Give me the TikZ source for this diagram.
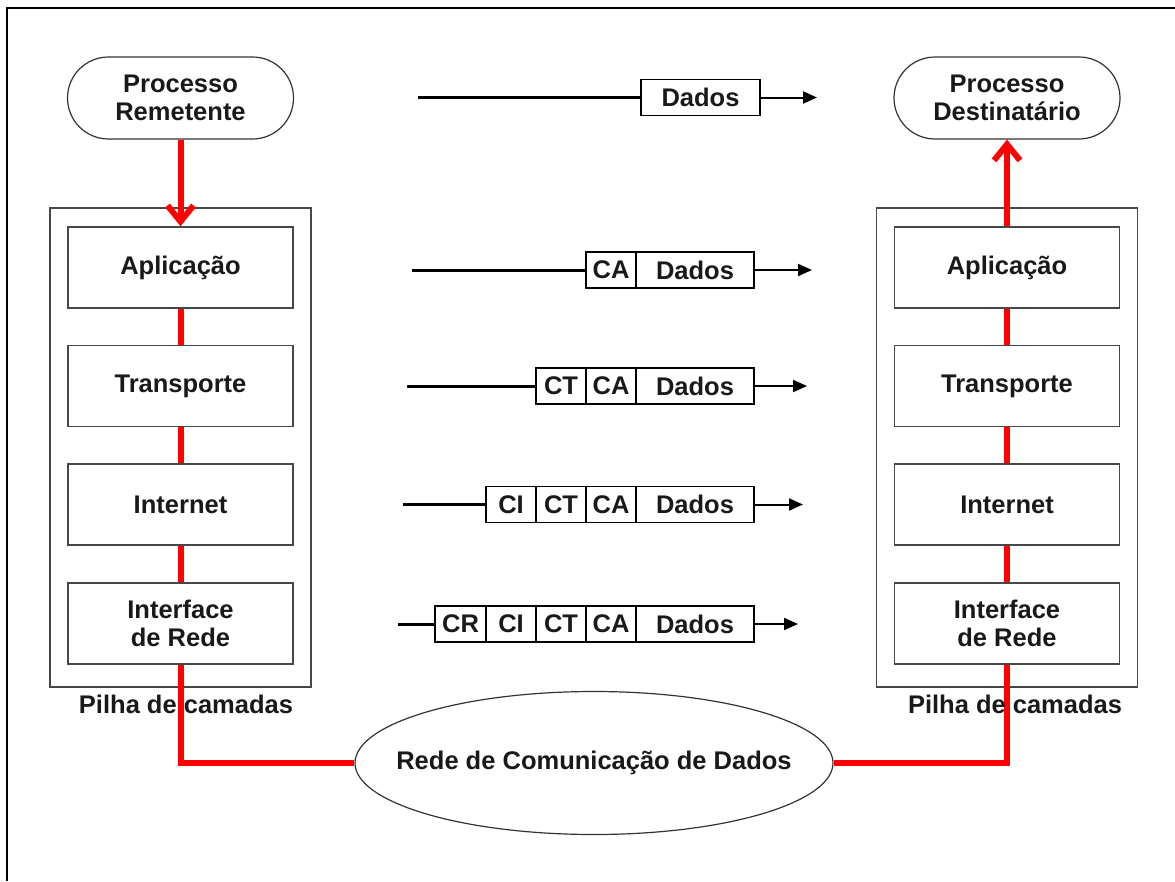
\documentclass[tikz,border=0pt]{standalone}
\usepackage{fontspec}
\setmainfont{Liberation Sans}
\usetikzlibrary{arrows.meta,shapes.geometric}

\begin{document}
\begin{tikzpicture}[x=1pt,y=-1pt,
  lbl/.style={font=\bfseries\fontsize{25.5}{28}\selectfont, align=center, text=black!90, inner sep=0pt},
  proc/.style={draw=black!80, line width=1.2pt, rounded corners=41pt,
    minimum width=226pt, minimum height=82pt, lbl},
  stackbox/.style={draw=black!72, line width=1.5pt, minimum width=261pt, minimum height=479pt, inner sep=0pt},
  layer/.style={draw=black!72, line width=1.5pt, fill=white,
    minimum width=225pt, minimum height=81pt, lbl},
  cell/.style={draw=black, line width=1.3pt, minimum height=36pt, lbl},
  hcell/.style={cell, minimum width=50pt},
  dcell/.style={cell, minimum width=118pt},
  lead/.style={line width=3pt, black},
  outgo/.style={line width=2pt, black, -{Triangle[length=14pt,width=12pt]}},
  redline/.style={line width=6pt, red},
  redarrow/.style={redline, -{Straight Barb[length=16pt,width=26pt]}},
]
\useasboundingbox (0,0) rectangle (1175,881);

% frame
\coordinate (fbl) at (7,881);
\coordinate (ftl) at (7,8);
\coordinate (ftr) at (1175,8);
\draw[line width=2pt] (fbl) -- (ftl) -- (ftr);

% sending side
\node[stackbox] (pilhaE) at (180.5,447.5) {};
\node[layer] (apE) at (180.5,267.5) {Aplicação};
\node[layer] (trE) at (180.5,386) {Transporte};
\node[layer] (inE) at (180.5,504.5) {Internet};
\node[layer] (ifE) at (180.5,623.5) {Interface\\de Rede};
\node[proc] (rem) at (180.5,98) {Processo\\Remetente};

% receiving side
\node[stackbox] (pilhaD) at (1007,447.5) {};
\node[layer] (apD) at (1007,267.5) {Aplicação};
\node[layer] (trD) at (1007,386) {Transporte};
\node[layer] (inD) at (1007,504.5) {Internet};
\node[layer] (ifD) at (1007,623.5) {Interface\\de Rede};
\node[proc] (dst) at (1007,98) {Processo\\Destinatário};

% network
\node[draw=black!80, line width=1.2pt, ellipse, minimum width=478pt, minimum height=143pt, inner sep=0pt]
  (rede) at (594,763) {};
\node[lbl] (redeTxt) at (rede.center) {Rede de Comunicação de Dados};

% red data path
\draw[redarrow] (rem.south) -- (apE.north);
\draw[redline] (apE.south) -- (trE.north);
\draw[redline] (trE.south) -- (inE.north);
\draw[redline] (inE.south) -- (ifE.north);
\draw[redline] (ifE.south) |- (rede.west);
\draw[redline] (rede.east) -| (ifD.south);
\draw[redline] (ifD.north) -- (inD.south);
\draw[redline] (inD.north) -- (trD.south);
\draw[redline] (trD.north) -- (apD.south);
\draw[redarrow] (apD.north) -- (dst.south);

% stack captions
\node[lbl, anchor=base] (capE) at (186,713) {Pilha de camadas};
\node[lbl, anchor=base] (capD) at (1015,713) {Pilha de camadas};

% row 1: data
\node[dcell, minimum width=119pt] (d1) at (700.5,97.5) {Dados};
\coordinate (s1) at (418,97.5);
\coordinate (e1) at (817,97.5);
\draw[lead] (s1) -- (d1.west);
\draw[outgo] (d1.east) -- (e1);

% row 2: application header
\node[hcell] (ca2) at (611,270) {CA};
\node[dcell] (d2) at (695,270) {Dados};
\coordinate (s2) at (412,270);
\coordinate (e2) at (812,270);
\draw[lead] (s2) -- (ca2.west);
\draw[outgo] (d2.east) -- (e2);

% row 3: transport header
\node[hcell] (ct3) at (561,386) {CT};
\node[hcell] (ca3) at (611,386) {CA};
\node[dcell] (d3) at (695,386) {Dados};
\coordinate (s3) at (407,386);
\coordinate (e3) at (807,386);
\draw[lead] (s3) -- (ct3.west);
\draw[outgo] (d3.east) -- (e3);

% row 4: internet header
\node[hcell] (ci4) at (511,504.5) {CI};
\node[hcell] (ct4) at (561,504.5) {CT};
\node[hcell] (ca4) at (611,504.5) {CA};
\node[dcell] (d4) at (695,504.5) {Dados};
\coordinate (s4) at (403,504.5);
\coordinate (e4) at (803,504.5);
\draw[lead] (s4) -- (ci4.west);
\draw[outgo] (d4.east) -- (e4);

% row 5: network interface header
\node[hcell, minimum width=51pt] (cr5) at (460.5,624) {CR};
\node[hcell] (ci5) at (511,624) {CI};
\node[hcell] (ct5) at (561,624) {CT};
\node[hcell] (ca5) at (611,624) {CA};
\node[dcell] (d5) at (695,624) {Dados};
\coordinate (s5) at (398,624);
\coordinate (e5) at (798,624);
\draw[lead] (s5) -- (cr5.west);
\draw[outgo] (d5.east) -- (e5);
\end{tikzpicture}
\end{document}
